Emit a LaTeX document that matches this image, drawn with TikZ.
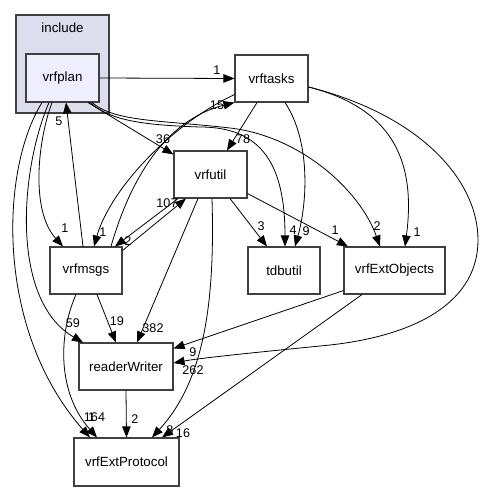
\documentclass[tikz,border=0pt]{standalone}
\usepackage{fontspec}
\setmainfont{Liberation Sans}
\usepackage{tikz}
\usetikzlibrary{arrows.meta}				%TikZ Libraries
\usepackage{xcolor}
\definecolor{clusterfill}{HTML}{DDDDEE}
\definecolor{planfill}{HTML}{EEEEFF}
\definecolor{boxline}{HTML}{404040}

\begin{document}
\begin{tikzpicture}[x=1pt,y=-1pt,
	dir/.style={draw=boxline,line width=1.1pt,fill=white,minimum height=47pt,inner sep=0pt,
		font=\fontsize{13.3}{16}\selectfont},
	dep/.style={-{Triangle[length=11pt,width=8.5pt]},line width=0.8pt},
	lbl/.style={inner sep=0pt,font=\fontsize{12.6}{14}\selectfont}]
		\useasboundingbox (0,0) rectangle (483,492);
		\node[draw=boxline,line width=1.1pt,fill=clusterfill,minimum width=93pt,minimum height=98pt,inner sep=0pt] (include) at (62.5,64) {};
		\node[lbl,font=\fontsize{13.3}{16}\selectfont] (includetxt) at (62.5,28) {include};
		\node[dir,fill=planfill,minimum width=73pt,minimum height=48pt] (vrfplan) at (62.5,78) {vrfplan};
		\node[dir,minimum width=73pt] (vrftasks) at (271.5,78.5) {vrftasks};
		\node[dir,minimum width=73pt] (vrfutil) at (210.5,174.5) {vrfutil};
		\node[dir,minimum width=72pt] (vrfmsgs) at (86,270.5) {vrfmsgs};
		\node[dir,minimum width=72pt] (tdbutil) at (284,270.5) {tdbutil};
		\node[dir,minimum width=101pt] (vrfExtObjects) at (394.5,270.5) {vrfExtObjects};
		\node[dir,minimum width=94pt] (readerWriter) at (126,366.5) {readerWriter};
		\node[dir,minimum width=105pt,minimum height=48pt] (vrfExtProtocol) at (126.5,462) {vrfExtProtocol};
		\draw[dep] (vrfplan.east) -- (vrftasks.west) node[lbl] at (217,70) {1};
		\draw[dep] ([xshift=25.5pt]vrfplan.south) -- ([yshift=-4pt]vrfutil.north west)
		node[lbl] at (163,139) {36};
		\draw[dep] ([xshift=27.5pt]vrfplan.south) .. controls (110,120) and (140,125) .. (200,127)
		.. controls (262,127) and (285,165) .. ([xshift=1pt]tdbutil.north) node[lbl] at (293,230) {4};
		\draw[dep] ([xshift=29.5pt]vrfplan.south) .. controls (115,122) and (160,120) .. (230,128)
		.. controls (300,136) and (360,190) .. ([xshift=-14.5pt]vrfExtObjects.north) node[lbl] at (377,226) {2};
		\draw[dep] ([xshift=-10.5pt]vrfplan.south) .. controls (38,140) and (30,210) .. ([xshift=-23pt]vrfmsgs.north)
		node[lbl] at (65,228) {1};
		\draw[dep] ([xshift=-13.5pt]vrfplan.south) .. controls (20,170) and (10,300) .. ([xshift=-43pt]readerWriter.north)
		node[lbl] at (73,323) {59};
		\draw[dep] ([xshift=-20.5pt]vrfplan.south) .. controls (0,170) and (-5,330) .. ([xshift=-36.5pt]vrfExtProtocol.north)
		node[lbl] at (94.5,417) {164};
		\draw[dep] ([xshift=-3pt]vrfmsgs.north) -- ([xshift=3.5pt]vrfplan.south) node[lbl] at (59,121) {5};
		\draw[dep] ([xshift=25pt]vrfmsgs.north) .. controls (130,180) and (165,120) .. (vrftasks.south west)
		node[lbl] at (217,105) {15};
		\draw[dep] ([yshift=-4pt]vrfmsgs.north east) -- ([xshift=-24.5pt]vrfutil.south) node[lbl] at (167,203) {107};
		\draw[dep] ([xshift=11pt]vrfmsgs.south) -- ([xshift=-10pt]readerWriter.north) node[lbl] at (117,321) {19};
		\draw[dep] ([xshift=-10pt]vrfmsgs.south) .. controls (60,330) and (55,390) .. ([xshift=-29.5pt]vrfExtProtocol.north)
		node[lbl] at (91.5,417) {1};
		\draw[dep] ([yshift=8pt]vrftasks.south west) .. controls (170,125) and (110,190) .. ([xshift=8pt]vrfmsgs.north)
		node[lbl] at (103,232) {1};
		\draw[dep] ([xshift=-14.5pt]vrftasks.south) -- ([xshift=16.5pt]vrfutil.north) node[lbl] at (243,139) {78};
		\draw[dep] ([xshift=13.5pt]vrftasks.south) .. controls (310,140) and (308,200) .. ([xshift=11pt]tdbutil.north)
		node[lbl] at (306,231) {9};
		\draw[dep] ([yshift=-8.5pt]vrftasks.east) .. controls (400,110) and (415,170) .. ([xshift=10.5pt]vrfExtObjects.north)
		node[lbl] at (417,232) {1};
		\draw[dep] ([yshift=-8.5pt]vrftasks.east) .. controls (420,115) and (478,180) .. (478,240)
		.. controls (478,300) and (420,335) .. (330,345)
		.. controls (260,352) and (200,358) .. ([yshift=3.5pt]readerWriter.east) node[lbl] at (193,370) {262};
		\draw[dep] ([xshift=-32.5pt]vrfutil.south) -- ([xshift=29pt]vrfmsgs.north) node[lbl] at (128,241) {2};
		\draw[dep] ([xshift=19.5pt]vrfutil.south) -- ([xshift=-17pt]tdbutil.north) node[lbl] at (261,226) {3};
		\draw[dep] ([yshift=5pt]vrfutil.south east) -- ([xshift=-46.5pt]vrfExtObjects.north) node[lbl] at (335,230) {1};
		\draw[dep] ([xshift=-12.5pt]vrfutil.south) -- ([xshift=11pt]readerWriter.north) node[lbl] at (153,328) {382};
		\draw[dep] ([xshift=1.5pt]vrfutil.south) .. controls (215,300) and (205,380) .. ([xshift=25.5pt]vrfExtProtocol.north)
		node[lbl] at (170,430) {8};
		\draw[dep] ([yshift=4pt]vrfExtObjects.south west) -- ([yshift=-6pt]readerWriter.north east) node[lbl] at (193,352) {9};
		\draw[dep] ([xshift=-32.5pt]vrfExtObjects.south) -- ([xshift=35.5pt]vrfExtProtocol.north) node[lbl] at (183,433) {16};
		\draw[dep] (readerWriter.south) -- (vrfExtProtocol.north) node[lbl] at (135,419) {2};
		\end{tikzpicture}
\end{document}
